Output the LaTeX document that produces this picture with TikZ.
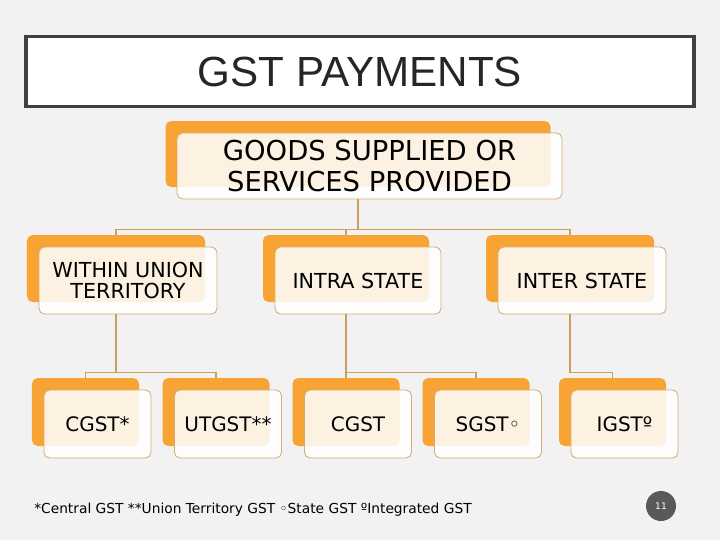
\documentclass[tikz,border=0pt]{standalone}
\usepackage{fontspec}
\setmainfont{DejaVu Sans}
\newfontfamily\titlefont{Liberation Sans}
\usetikzlibrary{positioning,calc}
\definecolor{gstbg}{RGB}{242,242,242}
\definecolor{gstorange}{RGB}{247,164,52}
\definecolor{gsttan}{RGB}{214,172,112}
\definecolor{gstline}{RGB}{201,160,92}
\definecolor{gstdark}{RGB}{64,64,64}
\definecolor{gstgrey}{RGB}{89,89,89}

\begin{document}
\begin{tikzpicture}[
  backbox/.style={rectangle, rounded corners=4pt, fill=gstorange, draw=none, inner sep=0pt},
  frontbox/.style={rectangle, rounded corners=4pt, draw=gsttan, line width=0.6pt,
                   fill=white, fill opacity=0.86, text opacity=1, align=center, inner sep=0pt},
  topsize/.style={minimum width=9.625cm, minimum height=1.65cm,
                  font=\fontsize{19.5}{22}\selectfont},
  midsize/.style={minimum height=1.675cm, font=\fontsize{14.7}{15.6}\selectfont},
  lowsize/.style={minimum width=2.675cm, minimum height=1.7cm,
                  font=\fontsize{14.2}{16}\selectfont},
  conn/.style={draw=gstline, line width=0.8pt}
]
% Background and frame
\fill[gstbg] (0,0) rectangle (18,-13.5);
\useasboundingbox (0,0) rectangle (18,-13.5);

% Title
\node[draw=gstdark, line width=2.5pt, fill=white, minimum width=16.7cm, minimum height=1.74cm,
      inner sep=0pt, text=black!85, font=\titlefont\fontsize{30}{36}\selectfont]
      (title) at (9,-1.7875) {GST PAYMENTS};

% Top box
\node[backbox, topsize]  (goods-b) at (8.95,-3.85) {};
\node[frontbox, topsize] (goods)   at (9.2375,-4.15) {GOODS SUPPLIED OR\\SERVICES PROVIDED};

% Middle row
\node[backbox, midsize, minimum width=4.45cm]  (ut-b)    at (2.9,-6.7125) {};
\node[frontbox, midsize, minimum width=4.45cm] (ut)      at (3.2,-7.0125) {WITHIN UNION\\TERRITORY};
\node[backbox, midsize, minimum width=4.15cm]  (intra-b) at (8.65,-6.7125) {};
\node[frontbox, midsize, minimum width=4.15cm] (intra)   at (8.95,-7.0125) {INTRA STATE};
\node[backbox, midsize, minimum width=4.2cm]   (inter-b) at (14.25,-6.7125) {};
\node[frontbox, midsize, minimum width=4.2cm]  (inter)   at (14.55,-7.0125) {INTER STATE};

% Bottom row
\node[backbox, lowsize]  (cgstu-b) at (2.1375,-10.3) {};
\node[frontbox, lowsize] (cgstu)   at (2.4375,-10.6) {CGST*};
\node[backbox, lowsize]  (utgst-b) at (5.4,-10.3) {};
\node[frontbox, lowsize] (utgst)   at (5.7,-10.6) {UTGST**};
\node[backbox, lowsize]  (cgst-b)  at (8.65,-10.3) {};
\node[frontbox, lowsize] (cgst)    at (8.95,-10.6) {CGST};
\node[backbox, lowsize]  (sgst-b)  at (11.9,-10.3) {};
\node[frontbox, lowsize] (sgst)    at (12.2,-10.6) {SGST◦};
\node[backbox, lowsize]  (igst-b)  at (15.3125,-10.3) {};
\node[frontbox, lowsize] (igst)    at (15.6125,-10.6) {IGSTº};

% Connectors
\draw[conn] (goods-b.south |- goods.south) -- ++(0,-0.75) -| (ut-b.north);
\draw[conn] (goods-b.south |- goods.south) -- ++(0,-0.75) -| (intra-b.north);
\draw[conn] (goods-b.south |- goods.south) -- ++(0,-0.75) -| (inter-b.north);
\draw[conn] (ut-b.south |- ut.south) -- ++(0,-1.45) -| (cgstu-b.north);
\draw[conn] (ut-b.south |- ut.south) -- ++(0,-1.45) -| (utgst-b.north);
\draw[conn] (intra-b.south |- intra.south) -- (cgst-b.north);
\draw[conn] (intra-b.south |- intra.south) -- ++(0,-1.45) -| (sgst-b.north);
\draw[conn] (inter-b.south |- inter.south) -- ++(0,-1.45) -| (igst-b.north);

% Footer
\node[anchor=west, inner sep=0pt, font=\fontsize{9.8}{11}\selectfont]
      (legend) at (0.85,-12.75) {*Central GST **Union Territory GST ◦State GST ºIntegrated GST};
\node[circle, fill=gstgrey, minimum size=0.75cm, inner sep=0pt, text=white,
      font=\fontsize{6.5}{7}\selectfont] (pagenum) at (16.525,-12.65) {11};
\end{tikzpicture}
\end{document}
